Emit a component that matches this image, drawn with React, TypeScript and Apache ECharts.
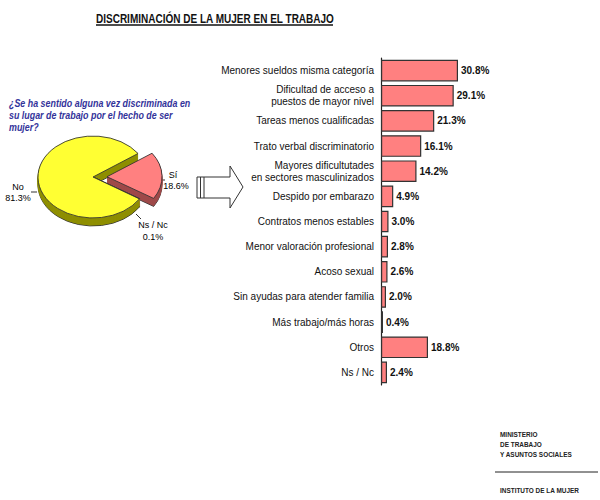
import React, { useEffect, useRef } from "react";
import * as echarts from "echarts";

// ---- Data ----
const categories = [
  "Menores sueldos misma categoría",
  "Dificultad de acceso a\npuestos de mayor nivel",
  "Tareas menos cualificadas",
  "Trato verbal discriminatorio",
  "Mayores dificultutades\nen sectores masculinizados",
  "Despido por embarazo",
  "Contratos menos estables",
  "Menor valoración profesional",
  "Acoso sexual",
  "Sin ayudas para atender familia",
  "Más trabajo/más horas",
  "Otros",
  "Ns / Nc",
];
const barValues = [30.8, 29.1, 21.3, 16.1, 14.2, 4.9, 3.0, 2.8, 2.6, 2.0, 0.4, 18.8, 2.4];

const pieNames = ["Sí", "Ns / Nc", "No"];
const pieValues = [18.6, 0.1, 81.3];
const pieExplode = [14, 0, 0];
const pieTopColors = ["#FF8080", "#FF8080", "#FFFF33"];
const pieSideColors = ["#9E4A4A", "#9E4A4A", "#8F8F00"];

const titleText = "DISCRIMINACIÓN DE LA MUJER EN EL TRABAJO";
const questionLines = [
  "¿Se ha sentido alguna vez discriminada en",
  "su lugar de trabajo por el hecho de ser",
  "mujer?",
];
const footerLines = ["MINISTERIO", "DE TRABAJO", "Y ASUNTOS SOCIALES"];
const footerBottom = "INSTITUTO DE LA MUJER";

// ---- Layout ----
const PIE_CX = 93;
const PIE_CY = 177;
const PIE_RX = 55;
const PIE_RY = 41;
const PIE_DEPTH = 8;
const PIE_START = (-35 * Math.PI) / 180;
const FONT = "Arial, 'Liberation Sans', sans-serif";

export default function App() {
  const ref = useRef<HTMLDivElement>(null);
  useEffect(() => {
    document.body.style.margin = "0";
    const chart = echarts.init(ref.current!, null, { renderer: "svg" });
    const total = pieValues.reduce((a, b) => a + b, 0);
    const sy = PIE_RY / PIE_RX;

    const txt = (text: string, x: number, y: number, opts: any = {}) => ({
      type: "text",
      x,
      y,
      scaleX: opts.scaleX ?? 1,
      style: {
        text,
        x: 0,
        y: 0,
        fill: opts.fill ?? "#000",
        fontSize: opts.fontSize ?? 9,
        fontFamily: FONT,
        fontWeight: opts.fontWeight ?? "normal",
        fontStyle: opts.fontStyle ?? "normal",
        align: opts.align ?? "left",
        verticalAlign: "middle",
        textAlign: opts.align ?? "left",
        textVerticalAlign: "middle",
      },
      z: 100,
    });

    const graphics: any[] = [
      txt(titleText, 96, 18, { fontSize: 13, fontWeight: "bold", fill: "#111", scaleX: 0.77 }),
      {
        type: "line",
        shape: { x1: 96, y1: 25, x2: 333, y2: 25 },
        style: { stroke: "#111", lineWidth: 1.3 },
      },
      ...questionLines.map((l, i) =>
        txt(l, 9, 103 + i * 12, {
          fontSize: 10,
          fontWeight: "bold",
          fontStyle: "italic",
          fill: "#33339A",
          scaleX: 0.89,
        })
      ),
      // pie labels
      txt("No", 18, 187, { align: "center" }),
      txt("81.3%", 18, 198, { align: "center" }),
      txt("Sí", 173, 175, { align: "center" }),
      txt("18.6%", 176, 186, { align: "center" }),
      txt("Ns / Nc", 153, 225, { align: "center" }),
      txt("0.1%", 153, 237, { align: "center" }),
      { type: "line", shape: { x1: 31, y1: 192, x2: 37, y2: 192 }, style: { stroke: "#333", lineWidth: 1 } },
      { type: "line", shape: { x1: 159, y1: 180, x2: 165, y2: 180 }, style: { stroke: "#333", lineWidth: 1 } },
      { type: "line", shape: { x1: 136, y1: 214, x2: 141, y2: 219 }, style: { stroke: "#333", lineWidth: 1 } },
      // arrow
      {
        type: "polygon",
        shape: {
          points: [
            [197, 177],
            [230, 177],
            [230, 166],
            [243, 187],
            [230, 208],
            [230, 198],
            [197, 198],
          ],
        },
        style: { fill: "#fff", stroke: "#333", lineWidth: 1 },
      },
      { type: "line", shape: { x1: 200.5, y1: 177, x2: 200.5, y2: 198 }, style: { stroke: "#333", lineWidth: 1 } },
      { type: "line", shape: { x1: 204, y1: 177, x2: 204, y2: 198 }, style: { stroke: "#333", lineWidth: 1 } },
      // footer
      ...footerLines.map((l, i) =>
        txt(l, 500, 434 + i * 10, { fontSize: 7, fontWeight: "bold", fill: "#222", scaleX: 0.92 })
      ),
      { type: "line", shape: { x1: 495, y1: 472, x2: 598, y2: 472 }, style: { stroke: "#222", lineWidth: 1 } },
      txt(footerBottom, 500, 490, { fontSize: 7, fontWeight: "bold", fill: "#222", scaleX: 0.92 }),
    ];

    chart.setOption({
      animation: false,
      backgroundColor: "#fff",
      grid: { left: 381, top: 58, width: 100, height: 327, containLabel: false },
      xAxis: { type: "value", min: 0, max: 40, show: false },
      yAxis: {
        type: "category",
        data: categories,
        inverse: true,
        axisLine: { show: true, lineStyle: { color: "#222", width: 1.2 } },
        axisTick: { show: false },
        axisLabel: {
          color: "#111",
          fontSize: 10,
          fontFamily: FONT,
          margin: 7,
          lineHeight: 12,
          align: "right",
        },
      },
      series: [
        {
          type: "bar",
          data: barValues,
          barCategoryGap: "14%",
          barMinHeight: 2,
          itemStyle: { color: "#FF8080", borderColor: "#333", borderWidth: 1.2 },
          label: {
            show: true,
            position: "right",
            distance: 3,
            formatter: (p: any) => p.value.toFixed(1) + "%",
            fontWeight: "bold",
            fontSize: 10,
            color: "#111",
            fontFamily: FONT,
          },
        },
        {
          type: "custom",
          coordinateSystem: "none",
          data: pieValues.map((v, i) => ({ name: pieNames[i], value: [v] })),
          renderItem: (params: any, api: any) => {
            const i = params.dataIndex;
            let acc = 0;
            for (let k = 0; k < i; k++) acc += pieValues[k];
            const s = PIE_START + (acc / total) * 2 * Math.PI;
            const e = s + (api.value(0) / total) * 2 * Math.PI;
            const mid = (s + e) / 2;
            const off = pieExplode[i];
            const gx = PIE_CX + off * Math.cos(mid);
            const gy = PIE_CY + off * Math.sin(mid) * sy;
            const children: any[] = [];
            for (let d = PIE_DEPTH; d >= 1; d--) {
              children.push({
                type: "sector",
                shape: { cx: 0, cy: d / sy, r: PIE_RX, r0: 0, startAngle: s, endAngle: e, clockwise: true },
                style: {
                  fill: pieSideColors[i],
                  stroke: d === PIE_DEPTH ? "#333" : pieSideColors[i],
                  lineWidth: 1,
                },
                z2: 1,
              });
            }
            children.push({
              type: "sector",
              shape: { cx: 0, cy: 0, r: PIE_RX, r0: 0, startAngle: s, endAngle: e, clockwise: true },
              style: { fill: pieTopColors[i], stroke: "#333", lineWidth: 1 },
              z2: 10,
            });
            return { type: "group", x: gx, y: gy, scaleY: sy, children };
          },
        },
      ],
      graphic: graphics,
    });
    return () => chart.dispose();
  }, []);
  return <div ref={ref} style={{ width: 600, height: 500 }} />;
}
